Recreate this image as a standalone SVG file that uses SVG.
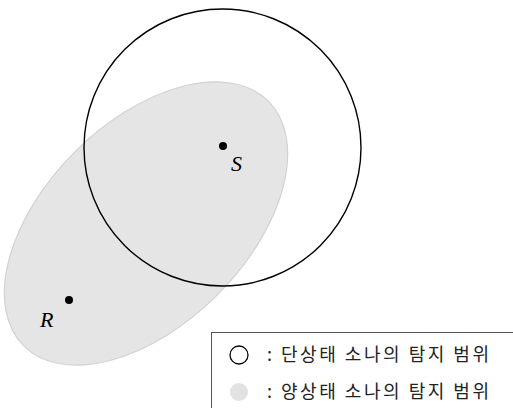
<svg xmlns="http://www.w3.org/2000/svg" width="513" height="408" viewBox="0 0 513 408">
<style>
.lbl{font-family:"Liberation Serif",serif;font-style:italic;font-size:22px;fill:#000}
.leg{font-family:"Noto Sans CJK KR","Noto Sans",sans-serif;font-size:18px;fill:#222}
.dot{fill:#000}
</style>
<rect width="513" height="408" fill="#fff"/>
<g id="bistatic">
<ellipse cx="146" cy="223.5" rx="173" ry="101" transform="rotate(-45 146 223.5)" fill="#e5e5e5" stroke="#d2d2d2" stroke-width="1.2"/>
</g>
<g id="monostatic">
<circle cx="222.5" cy="147.5" r="138.5" fill="none" stroke="#000" stroke-width="1.4"/>
</g>
<g id="S">
<circle class="dot" cx="223" cy="146" r="4"/>
<text class="lbl" x="231" y="171">S</text>
</g>
<g id="R">
<circle class="dot" cx="69" cy="300" r="4"/>
<text class="lbl" x="40" y="327">R</text>
</g>
<g id="legend">
<rect x="211.5" y="332.5" width="310" height="90" fill="#fff" stroke="#555" stroke-width="1"/>
<circle cx="239" cy="355" r="9" fill="none" stroke="#000" stroke-width="1.3"/>
<text class="leg" x="267" y="361">:</text>
<text class="leg" x="281" y="361" textLength="208" lengthAdjust="spacing">단상태 소나의 탐지 범위</text>
<circle cx="239" cy="392" r="9" fill="#e2e2e2"/>
<text class="leg" x="267" y="398">:</text>
<text class="leg" x="281" y="398" textLength="208" lengthAdjust="spacing">양상태 소나의 탐지 범위</text>
</g>
</svg>
